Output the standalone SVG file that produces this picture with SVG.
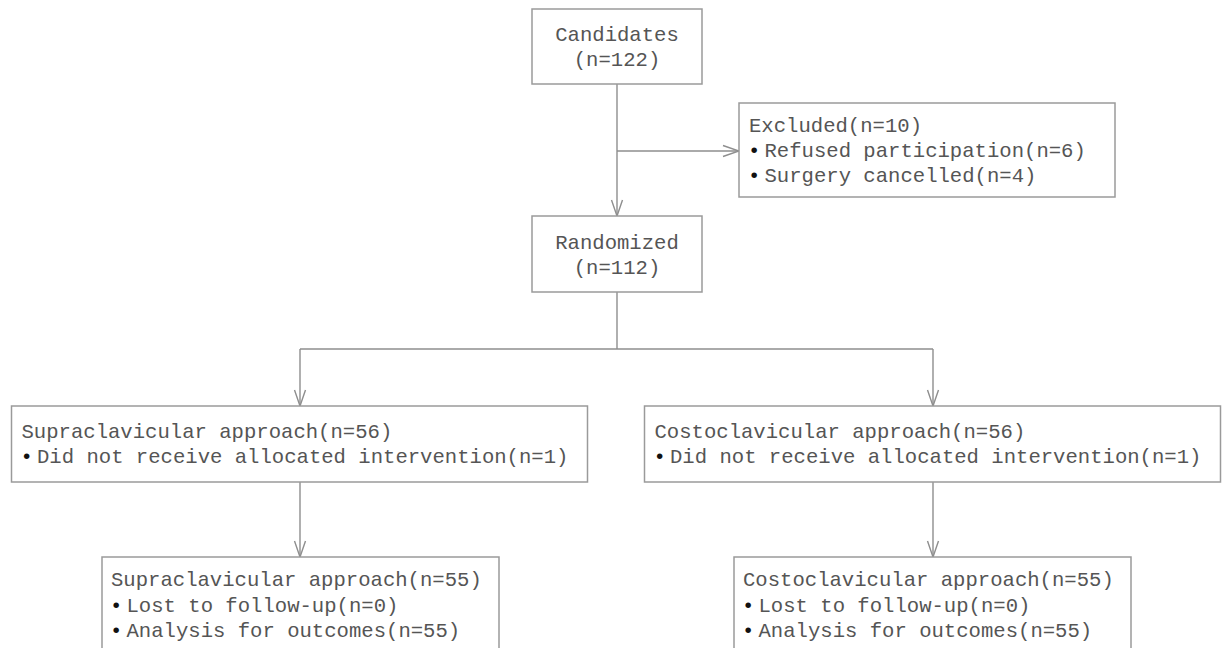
<svg xmlns="http://www.w3.org/2000/svg" width="1224" height="648" viewBox="0 0 1224 648">
<defs>
<style>
.box{fill:#ffffff;stroke:#9a9a9a;stroke-width:1.5}
.t{font-family:"Liberation Mono","Courier New",monospace;font-size:20.6px;fill:#555555}
.c{text-anchor:middle}
.b{fill:#111111}
.ln{fill:none;stroke:#8e8e8e;stroke-width:1.4}
</style>
<marker id="arr" markerUnits="userSpaceOnUse" viewBox="-18 -8 20 16" refX="0" refY="0" markerWidth="20" markerHeight="16" orient="auto">
<path d="M-16,-5.5 L0,0 L-16,5.5" fill="none" stroke="#8e8e8e" stroke-width="1.4"/>
</marker>
</defs>
<rect width="1224" height="648" fill="#ffffff"/>
<g id="connectors">
<line class="ln" x1="617" y1="84" x2="617" y2="216" marker-end="url(#arr)"/>
<line class="ln" x1="617" y1="151" x2="739" y2="151" marker-end="url(#arr)"/>
<polyline class="ln" points="617,292 617,349"/>
<polyline class="ln" points="300,349 933,349"/>
<line class="ln" x1="300" y1="349" x2="300" y2="406" marker-end="url(#arr)"/>
<line class="ln" x1="933" y1="349" x2="933" y2="406" marker-end="url(#arr)"/>
<line class="ln" x1="300" y1="482" x2="300" y2="557" marker-end="url(#arr)"/>
<line class="ln" x1="933" y1="482" x2="933" y2="557" marker-end="url(#arr)"/>
</g>
<g id="candidates">
<rect class="box" x="532" y="9" width="170" height="75"/>
<text class="t c" x="617" y="41">Candidates</text>
<text class="t c" x="617" y="66">(n=122)</text>
</g>
<g id="excluded">
<rect class="box" x="739" y="103" width="376" height="94"/>
<text class="t" x="749" y="132">Excluded(n=10)</text>
<text class="t" y="157"><tspan class="b" x="748">•</tspan><tspan x="764.5">Refused participation(n=6)</tspan></text>
<text class="t" y="182"><tspan class="b" x="748">•</tspan><tspan x="764.5">Surgery cancelled(n=4)</tspan></text>
</g>
<g id="randomized">
<rect class="box" x="532" y="216" width="170" height="76"/>
<text class="t c" x="617" y="249">Randomized</text>
<text class="t c" x="617" y="274">(n=112)</text>
</g>
<g id="supra56">
<rect class="box" x="11.5" y="406" width="576" height="76"/>
<text class="t" x="21.5" y="438">Supraclavicular approach(n=56)</text>
<text class="t" y="463"><tspan class="b" x="20.5">•</tspan><tspan x="37">Did not receive allocated intervention(n=1)</tspan></text>
</g>
<g id="costo56">
<rect class="box" x="644.5" y="406" width="576" height="76"/>
<text class="t" x="654.5" y="438">Costoclavicular approach(n=56)</text>
<text class="t" y="463"><tspan class="b" x="653.5">•</tspan><tspan x="670">Did not receive allocated intervention(n=1)</tspan></text>
</g>
<g id="supra55">
<rect class="box" x="102" y="557" width="397" height="94"/>
<text class="t" x="111" y="586">Supraclavicular approach(n=55)</text>
<text class="t" y="611.5"><tspan class="b" x="110">•</tspan><tspan x="126.5">Lost to follow-up(n=0)</tspan></text>
<text class="t" y="637"><tspan class="b" x="110">•</tspan><tspan x="126.5">Analysis for outcomes(n=55)</tspan></text>
</g>
<g id="costo55">
<rect class="box" x="734" y="557" width="397" height="94"/>
<text class="t" x="743" y="586">Costoclavicular approach(n=55)</text>
<text class="t" y="611.5"><tspan class="b" x="742">•</tspan><tspan x="758.5">Lost to follow-up(n=0)</tspan></text>
<text class="t" y="637"><tspan class="b" x="742">•</tspan><tspan x="758.5">Analysis for outcomes(n=55)</tspan></text>
</g>
</svg>
